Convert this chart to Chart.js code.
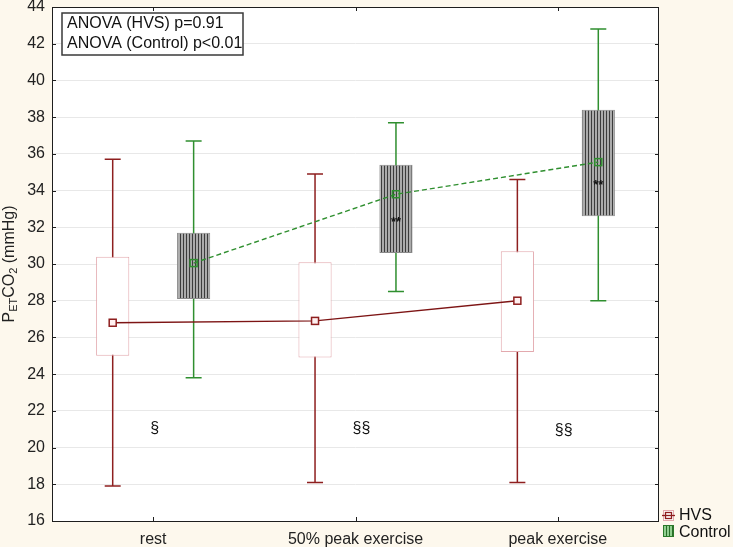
<!DOCTYPE html>
<html><head><meta charset="utf-8">
<script src="https://cdn.jsdelivr.net/npm/chart.js@4/dist/chart.umd.min.js"></script>
<style>html,body{margin:0;padding:0;background:#fdf8ed;}#wrap{width:733px;height:547px;position:relative;}</style>
</head><body><div id="wrap"><canvas id="c" width="733" height="547"></canvas></div>
<script>
// ---- data ----
const categories = ['rest', '50% peak exercise', 'peak exercise'];
const seriesNames = ['HVS', 'Control'];
const hvsMean = [26.8, 26.9, 28.0];
const hvsBoxLow = [25.0, 24.9, 25.2];
const hvsBoxHigh = [30.4, 30.1, 30.7];
const hvsWhiskerLow = [17.9, 18.1, 18.1];
const hvsWhiskerHigh = [35.7, 34.9, 34.6];
const ctlMean = [30.05, 33.8, 35.55];
const ctlBoxLow = [28.1, 30.6, 32.6];
const ctlBoxHigh = [31.7, 35.4, 38.4];
const ctlWhiskerLow = [23.8, 28.5, 28.0];
const ctlWhiskerHigh = [36.7, 37.7, 42.8];
const starLabels = ['', '**', '**'];
const starY = [null, 32.25, 34.3];
const sigLabels = ['§', '§§', '§§'];
const sigY = [21.05, 21.05, 20.9];
const yMin = 16, yMax = 44, yStep = 2;
const annotationLines = ['ANOVA (HVS) p=0.91', 'ANOVA (Control) p<0.01'];

const FONT = '"Liberation Sans", Arial, sans-serif';
const HVS_DARK = '#8e1f1f';
const HVS_BOX = '#e3a9ae';
const CTL_GREEN = '#2f8f2f';

function stripePattern(dark, light) {
  const pc = document.createElement('canvas');
  pc.width = 3; pc.height = 4;
  const g = pc.getContext('2d');
  g.fillStyle = light; g.fillRect(0, 0, 3, 4);
  g.fillStyle = dark; g.fillRect(0, 0, 1, 4);
  return g.createPattern(pc, 'repeat');
}
const ctx = document.getElementById('c').getContext('2d');
const ctlPattern = stripePattern('#3c3c3c', '#ababab');
const legendPattern = stripePattern('#2a6e2a', '#8fcf8f');

const bgPlugin = {
  id: 'bg',
  beforeDraw(chart) {
    const c = chart.ctx, a = chart.chartArea;
    c.save();
    c.fillStyle = '#fdf8ed';
    c.fillRect(0, 0, chart.width, chart.height);
    c.fillStyle = '#ffffff';
    c.fillRect(a.left, a.top, a.right - a.left, a.bottom - a.top);
    c.restore();
  }
};

const whiskerPlugin = {
  id: 'whiskers',
  beforeDatasetsDraw(chart) {
    const c = chart.ctx, y = chart.scales.y;
    const sets = [[hvsWhiskerLow, hvsWhiskerHigh, HVS_DARK], [ctlWhiskerLow, ctlWhiskerHigh, CTL_GREEN]];
    c.save();
    sets.forEach((s, d) => {
      const meta = chart.getDatasetMeta(d);
      c.strokeStyle = s[2];
      c.lineWidth = 1.5;
      meta.data.forEach((el, i) => {
        const x = el.x, lo = y.getPixelForValue(s[0][i]), hi = y.getPixelForValue(s[1][i]);
        c.beginPath();
        c.moveTo(x, lo); c.lineTo(x, hi);
        c.moveTo(x - 8, lo); c.lineTo(x + 8, lo);
        c.moveTo(x - 8, hi); c.lineTo(x + 8, hi);
        c.stroke();
      });
    });
    c.restore();
  },
  afterDatasetsDraw(chart) {
    const c = chart.ctx, y = chart.scales.y, xs = chart.scales.x;
    const mh = chart.getDatasetMeta(0).data, mc = chart.getDatasetMeta(1).data;
    c.save();
    // mean lines
    c.lineWidth = 1.4;
    c.strokeStyle = '#7d1414';
    c.beginPath();
    mh.forEach((el, i) => { const py = y.getPixelForValue(hvsMean[i]); i ? c.lineTo(el.x, py) : c.moveTo(el.x, py); });
    c.stroke();
    c.strokeStyle = CTL_GREEN;
    c.setLineDash([5, 3]);
    c.beginPath();
    mc.forEach((el, i) => { const py = y.getPixelForValue(ctlMean[i]); i ? c.lineTo(el.x, py) : c.moveTo(el.x, py); });
    c.stroke();
    c.setLineDash([]);
    // markers
    mh.forEach((el, i) => {
      const py = y.getPixelForValue(hvsMean[i]);
      c.fillStyle = '#fff0f0'; c.fillRect(el.x - 3.5, py - 3.5, 7, 7);
      c.strokeStyle = HVS_DARK; c.lineWidth = 1.5; c.strokeRect(el.x - 3.5, py - 3.5, 7, 7);
    });
    mc.forEach((el, i) => {
      const py = y.getPixelForValue(ctlMean[i]);
      c.strokeStyle = CTL_GREEN; c.lineWidth = 1.5; c.strokeRect(el.x - 3.5, py - 3.5, 7, 7);
    });
    // ** labels
    c.fillStyle = '#111';
    c.font = 'bold 13px ' + FONT;
    c.textAlign = 'center'; c.textBaseline = 'middle';
    mc.forEach((el, i) => { if (starLabels[i]) c.fillText(starLabels[i], el.x, y.getPixelForValue(starY[i])); });
    // § labels
    c.font = '16px ' + FONT;
    c.textAlign = 'left';
    sigLabels.forEach((t, i) => { c.fillText(t, xs.getPixelForValue(i) - 3, y.getPixelForValue(sigY[i])); });
    c.restore();
  }
};

const framePlugin = {
  id: 'frame',
  afterDraw(chart) {
    const c = chart.ctx, a = chart.chartArea, y = chart.scales.y, xs = chart.scales.x;
    c.save();
    c.strokeStyle = '#1e1e1e'; c.lineWidth = 1;
    c.strokeRect(Math.round(a.left) + 0.5, Math.round(a.top) + 0.5, Math.round(a.right - a.left) - 1, Math.round(a.bottom - a.top));
    c.beginPath();
    for (let v = yMin; v <= yMax; v += yStep) {
      const py = Math.round(y.getPixelForValue(v)) + 0.5;
      c.moveTo(a.left, py); c.lineTo(a.left + 4, py);
      c.moveTo(a.right, py); c.lineTo(a.right - 4, py);
    }
    categories.forEach((_, i) => {
      const px = Math.round(xs.getPixelForValue(i)) + 0.5;
      c.moveTo(px, a.bottom); c.lineTo(px, a.bottom - 4);
      c.moveTo(px, a.top); c.lineTo(px, a.top + 4);
    });
    c.stroke();
    // annotation box
    c.fillStyle = '#ffffff';
    c.fillRect(62, 13, 181, 42);
    c.strokeStyle = '#3a3a3a'; c.lineWidth = 1.5;
    c.strokeRect(62, 13, 181, 42);
    c.fillStyle = '#111';
    c.font = '16px ' + FONT;
    c.textAlign = 'left'; c.textBaseline = 'middle';
    annotationLines.forEach((t, i) => c.fillText(t, 67, 24 + i * 20));
    // legend
    const lx = 663;
    c.fillStyle = '#fff'; c.fillRect(lx, 510, 10, 10);
    c.strokeStyle = HVS_BOX; c.lineWidth = 1; c.strokeRect(lx + 0.5, 510.5, 10, 10);
    c.strokeStyle = HVS_DARK; c.lineWidth = 1.3;
    c.beginPath(); c.moveTo(lx - 1, 515.5); c.lineTo(lx + 12, 515.5); c.stroke();
    c.strokeRect(lx + 2.5, 512.5, 6, 6);
    c.fillStyle = legendPattern; c.fillRect(lx, 525, 11, 12);
    c.strokeStyle = '#2a7a2a'; c.lineWidth = 1; c.strokeRect(lx + 0.5, 525.5, 10, 11);
    c.fillStyle = '#111';
    c.font = '16px ' + FONT;
    seriesNames.forEach((t, i) => c.fillText(t, 679, 516 + i * 17));
    // y title with subscripts
    const parts = [['P', 16, 0], ['ET', 11, 4], ['CO', 16, 0], ['2', 11, 4], [' (mmHg)', 16, 0]];
    let total = 0;
    parts.forEach(p => { c.font = p[1] + 'px ' + FONT; total += c.measureText(p[0]).width; });
    c.translate(10, (a.top + a.bottom) / 2);
    c.rotate(-Math.PI / 2);
    let x0 = -total / 2;
    c.textAlign = 'left'; c.textBaseline = 'middle';
    c.fillStyle = '#222';
    parts.forEach(p => { c.font = p[1] + 'px ' + FONT; c.fillText(p[0], x0, p[2]); x0 += c.measureText(p[0]).width; });
    c.restore();
  }
};

new Chart(ctx, {
  type: 'bar',
  data: {
    labels: categories,
    datasets: [
      { label: seriesNames[0], data: categories.map((_, i) => [hvsBoxLow[i], hvsBoxHigh[i]]),
        backgroundColor: '#ffffff', borderColor: HVS_BOX, borderWidth: 1, borderSkipped: false,
        barPercentage: 0.41, categoryPercentage: 0.8 },
      { label: seriesNames[1], data: categories.map((_, i) => [ctlBoxLow[i], ctlBoxHigh[i]]),
        backgroundColor: ctlPattern, borderColor: '#8a8a8a', borderWidth: 1, borderSkipped: false,
        barPercentage: 0.41, categoryPercentage: 0.8 }
    ]
  },
  options: {
    responsive: false, animation: false, devicePixelRatio: 1,
    layout: { padding: { top: 7, right: 74, left: 0, bottom: 0 } },
    plugins: { legend: { display: false }, tooltip: { enabled: false } },
    scales: {
      x: {
        grid: { display: false, drawTicks: false }, border: { display: false },
        ticks: { font: { family: FONT, size: 16 }, color: '#222', padding: 9 },
        afterFit(s) { s.height = 26; s.paddingLeft = 0; s.paddingRight = 0; }
      },
      y: {
        min: yMin, max: yMax,
        grid: { color: '#e8e8e8', drawTicks: false }, border: { display: false },
        ticks: { stepSize: yStep, font: { family: FONT, size: 16 }, color: '#222', padding: 7 },
        afterFit(s) { s.width = 52; s.paddingTop = 0; s.paddingBottom = 0; }
      }
    }
  },
  plugins: [bgPlugin, whiskerPlugin, framePlugin]
});
</script></body></html>
